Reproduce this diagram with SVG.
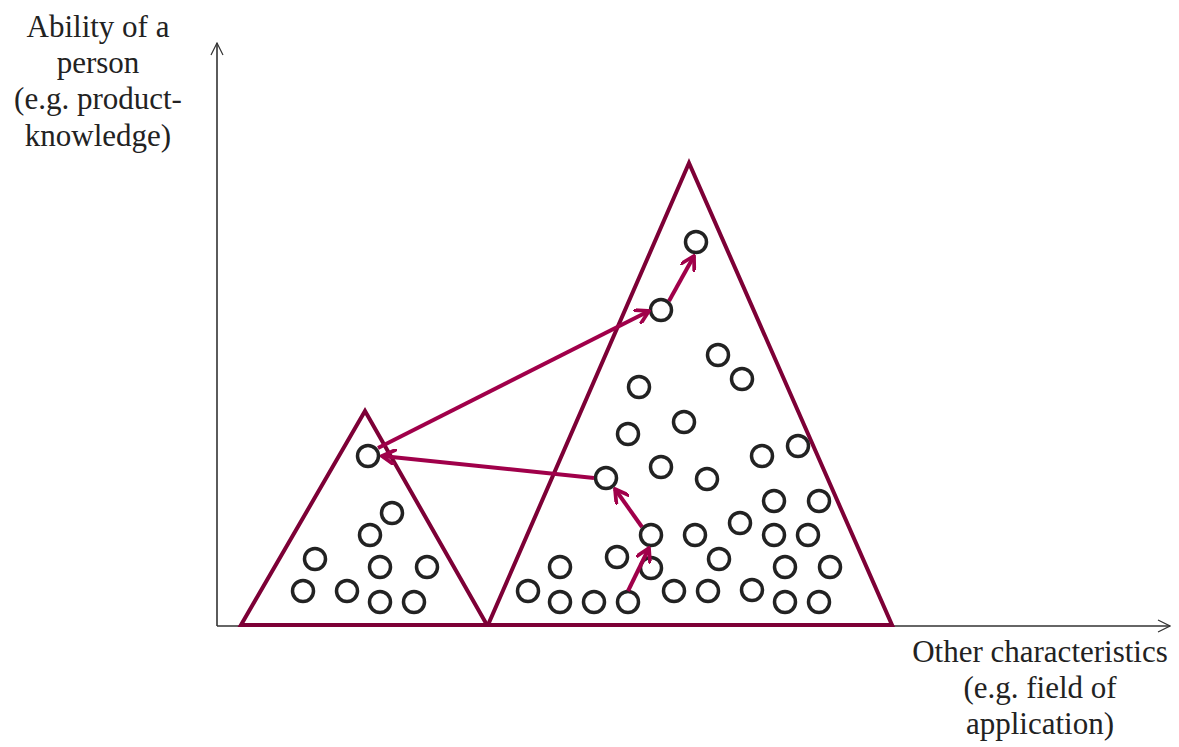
<svg xmlns="http://www.w3.org/2000/svg" width="1179" height="747" viewBox="0 0 1179 747">
<style>
.lbl{font-family:"Liberation Serif","Times New Roman",serif;font-size:31px;fill:#222;text-anchor:middle}
.axis{stroke:#333;stroke-width:1.6;fill:none}
.tri{stroke:#7d0036;stroke-width:4;fill:none;stroke-linejoin:miter}
.p circle{fill:none;stroke:#222;stroke-width:3.5}
.arr{stroke:#a0004a;stroke-width:4;fill:none;marker-end:url(#ah)}
</style>
<defs>
<marker id="ah" viewBox="0 0 12 12" refX="10.5" refY="6" markerWidth="4" markerHeight="4" orient="auto" markerUnits="strokeWidth">
<path d="M1,0.5 L10.5,6 L1,11.5" fill="none" stroke="#a0004a" stroke-width="2.8" stroke-linecap="round"/>
</marker>
<marker id="ax" viewBox="0 0 12 12" refX="11" refY="6" markerWidth="9" markerHeight="9" orient="auto" markerUnits="strokeWidth">
<path d="M1,1 L11,6 L1,11" fill="none" stroke="#333" stroke-width="1"/>
</marker>
</defs>
<g id="axes">
<line class="axis" x1="217" y1="626" x2="217" y2="43" marker-end="url(#ax)"/>
<line class="axis" x1="217" y1="626" x2="1170" y2="626" marker-end="url(#ax)"/>
</g>
<g id="label-y">
<text class="lbl" x="98" y="37">Ability of a</text>
<text class="lbl" x="98" y="73">person</text>
<text class="lbl" x="98" y="109">(e.g. product-</text>
<text class="lbl" x="98" y="146">knowledge)</text>
</g>
<g id="label-x">
<text class="lbl" x="1040" y="662">Other characteristics</text>
<text class="lbl" x="1040" y="698">(e.g. field of</text>
<text class="lbl" x="1040" y="734">application)</text>
</g>
<g id="small-triangle">
<polygon class="tri" points="365,411 241,625 487,625"/>
</g>
<g id="large-triangle">
<polygon class="tri" points="689,163 488,625 892,625"/>
</g>
<g id="small-people" class="p">
<circle cx="368" cy="456" r="10.5"/>
<circle cx="392" cy="513" r="10.5"/>
<circle cx="370" cy="535" r="10.5"/>
<circle cx="315" cy="559" r="10.5"/>
<circle cx="380" cy="567" r="10.5"/>
<circle cx="427" cy="567" r="10.5"/>
<circle cx="303" cy="591" r="10.5"/>
<circle cx="347" cy="591" r="10.5"/>
<circle cx="380" cy="602" r="10.5"/>
<circle cx="414" cy="602" r="10.5"/>
</g>
<g id="large-people" class="p">
<circle cx="696" cy="242" r="10.5"/>
<circle cx="661" cy="310" r="10.5"/>
<circle cx="718" cy="355" r="10.5"/>
<circle cx="742" cy="379" r="10.5"/>
<circle cx="639" cy="387" r="10.5"/>
<circle cx="628" cy="434" r="10.5"/>
<circle cx="684" cy="422" r="10.5"/>
<circle cx="762" cy="456" r="10.5"/>
<circle cx="798" cy="446" r="10.5"/>
<circle cx="606" cy="478" r="10.5"/>
<circle cx="661" cy="467" r="10.5"/>
<circle cx="707" cy="479" r="10.5"/>
<circle cx="774" cy="501" r="10.5"/>
<circle cx="819" cy="501" r="10.5"/>
<circle cx="740" cy="523" r="10.5"/>
<circle cx="651" cy="535" r="10.5"/>
<circle cx="695" cy="535" r="10.5"/>
<circle cx="774" cy="535" r="10.5"/>
<circle cx="808" cy="535" r="10.5"/>
<circle cx="617" cy="557" r="10.5"/>
<circle cx="719" cy="559" r="10.5"/>
<circle cx="560" cy="567" r="10.5"/>
<circle cx="651" cy="568" r="10.5"/>
<circle cx="785" cy="567" r="10.5"/>
<circle cx="830" cy="567" r="10.5"/>
<circle cx="528" cy="591" r="10.5"/>
<circle cx="674" cy="591" r="10.5"/>
<circle cx="708" cy="591" r="10.5"/>
<circle cx="752" cy="590" r="10.5"/>
<circle cx="560" cy="602" r="10.5"/>
<circle cx="594" cy="602" r="10.5"/>
<circle cx="628" cy="602" r="10.5"/>
<circle cx="785" cy="602" r="10.5"/>
<circle cx="819" cy="602" r="10.5"/>
</g>
<g id="connectors">
<line class="arr" x1="628" y1="591" x2="649" y2="548"/>
<line class="arr" x1="642" y1="527" x2="615" y2="489"/>
<line class="arr" x1="594" y1="478" x2="382" y2="456"/>
<line class="arr" x1="378" y1="448" x2="649" y2="311"/>
<line class="arr" x1="669" y1="301" x2="694" y2="256"/>
</g>
</svg>
